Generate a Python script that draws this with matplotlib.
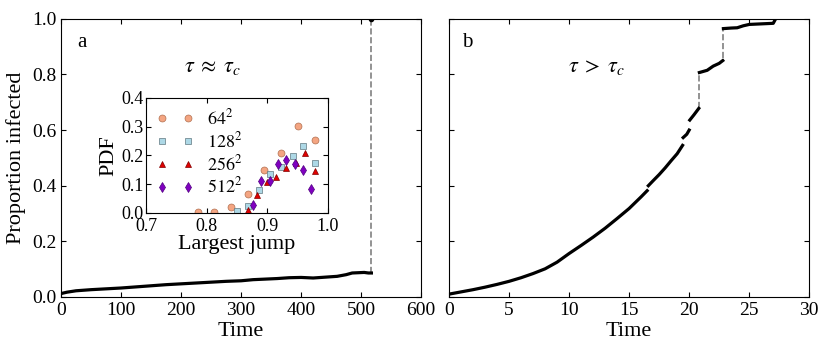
import matplotlib
matplotlib.use("Agg")
import matplotlib.pyplot as plt

plt.rcParams['font.family'] = ['Liberation Serif', 'DejaVu Serif']
plt.rcParams['mathtext.fontset'] = 'stix'
plt.rcParams['xtick.direction'] = 'in'
plt.rcParams['ytick.direction'] = 'in'
plt.rcParams['xtick.top'] = True
plt.rcParams['ytick.right'] = True

# panel a: slow growth then one big jump
t_a = [0, 10, 25, 50, 75, 100, 125, 150, 175, 200, 225, 250, 275, 300, 320,
       340, 360, 380, 400, 420, 440, 460, 475, 485, 495, 505, 512, 517]
y_a = [0.012, 0.017, 0.022, 0.026, 0.029, 0.032, 0.036, 0.040, 0.044, 0.047, 0.050,
       0.053, 0.056, 0.058, 0.062, 0.064, 0.066, 0.069, 0.070, 0.068, 0.071, 0.074,
       0.080, 0.086, 0.087, 0.088, 0.086, 0.086]
jump_a_t = 517
jump_a_y = [0.086, 1.0]

# panel b: supercritical growth, broken into segments between jumps
seg_b_t = [
    [0, 1, 2, 3, 4, 5, 6, 7, 8, 9, 10, 11, 12, 13, 14, 15, 16, 16.5],
    [16.6, 17, 17.5, 18, 18.5, 19, 19.45],
    [19.5, 19.8, 20.0],
    [20.05, 20.4, 20.8],
    [20.85, 21.5, 22.0, 22.5, 22.8],
    [22.85, 23.5, 24.0, 24.5, 25.0, 26.0, 27.0, 27.2],
]
seg_b_y = [
    [0.01, 0.018, 0.026, 0.035, 0.045, 0.056, 0.069, 0.084, 0.101, 0.125, 0.156,
     0.185, 0.215, 0.247, 0.282, 0.318, 0.36, 0.382],
    [0.40, 0.418, 0.44, 0.464, 0.49, 0.515, 0.545],
    [0.573, 0.585, 0.60],
    [0.636, 0.655, 0.678],
    [0.807, 0.815, 0.83, 0.84, 0.85],
    [0.965, 0.967, 0.968, 0.975, 0.98, 0.982, 0.984, 1.0],
]
jumps_b = [(20.82, 0.678, 0.807), (22.82, 0.86, 0.965)]

# inset: PDF of the largest jump
jump_64 = [0.785, 0.812, 0.840, 0.868, 0.895, 0.923, 0.950, 0.978]
pdf_64 = [0.002, 0.004, 0.021, 0.065, 0.148, 0.209, 0.301, 0.253]
jump_128 = [0.850, 0.868, 0.886, 0.904, 0.923, 0.942, 0.959, 0.978]
pdf_128 = [0.008, 0.025, 0.078, 0.136, 0.160, 0.197, 0.232, 0.172]
jump_256 = [0.868, 0.883, 0.899, 0.915, 0.931, 0.947, 0.963, 0.978]
pdf_256 = [0.010, 0.062, 0.109, 0.125, 0.156, 0.172, 0.210, 0.147]
jump_512 = [0.877, 0.890, 0.904, 0.918, 0.931, 0.945, 0.959, 0.972]
pdf_512 = [0.027, 0.111, 0.112, 0.171, 0.184, 0.171, 0.150, 0.083]

fig = plt.figure(figsize=(8.3, 3.56), dpi=100)
ax1 = fig.add_axes([0.0735, 0.166, 0.434, 0.781])
ax2 = fig.add_axes([0.541, 0.166, 0.434, 0.781])
axi = fig.add_axes([0.176, 0.402, 0.219, 0.323])

ax1.plot([jump_a_t, jump_a_t], jump_a_y, color='gray', linestyle='--', lw=1.2)
ax1.plot(t_a, y_a, color='black', lw=2.3)
ax1.plot([jump_a_t], [1.0], 'o', color='black', ms=3)
ax1.set_xlim(0, 600)
ax1.set_ylim(0, 1)
ax1.set_xlabel('Time', fontsize=16, labelpad=2)
ax1.set_ylabel('Proportion infected', fontsize=16)
ax1.text(0.045, 0.9, 'a', transform=ax1.transAxes, fontsize=15)
ax1.text(0.42, 0.81, r'$\tau\;\approx\;\tau_c$', transform=ax1.transAxes,
         fontsize=16, ha='center')

for tj, y0, y1 in jumps_b:
    ax2.plot([tj, tj], [y0, y1], color='gray', linestyle='--', lw=1.2)
for ts, ys in zip(seg_b_t, seg_b_y):
    ax2.plot(ts, ys, color='black', lw=2.3)
ax2.set_xlim(0, 30)
ax2.set_ylim(0, 1)
ax2.set_yticklabels([])
ax2.set_xlabel('Time', fontsize=16, labelpad=2)
ax2.text(0.036, 0.9, 'b', transform=ax2.transAxes, fontsize=15)
ax2.text(0.41, 0.81, r'$\tau\;>\;\tau_c$', transform=ax2.transAxes,
         fontsize=16, ha='center')

axi.plot(jump_64, pdf_64, 'o', color='#f4a582', mec='#b07050', mew=0.5, ms=5, label=r'$64^2$')
axi.plot(jump_128, pdf_128, 's', color='#add8e6', mec='#607880', mew=0.5, ms=5, label=r'$128^2$')
axi.plot(jump_256, pdf_256, '^', color='#e00000', mec='#800000', mew=0.5, ms=5, label=r'$256^2$')
axi.plot(jump_512, pdf_512, 'd', color='#8000c0', mec='#500080', mew=0.5, ms=5, label=r'$512^2$')
axi.set_xlim(0.7, 1.0)
axi.set_ylim(0, 0.4)
axi.set_xticks([0.7, 0.8, 0.9, 1.0])
axi.set_yticks([0.0, 0.1, 0.2, 0.3, 0.4])
axi.tick_params(axis='x', labelsize=13, pad=4)
axi.tick_params(axis='y', labelsize=13, pad=2)
axi.set_xlabel('Largest jump', fontsize=16, labelpad=0)
axi.set_ylabel('PDF', fontsize=16, labelpad=2)
axi.legend(loc='upper left', numpoints=2, frameon=False, fontsize=13,
           handlelength=2.0, labelspacing=0.15, borderaxespad=0.2)

for ax in (ax1, ax2):
    ax.tick_params(labelsize=14)

fig.savefig('out.png', dpi=100)
